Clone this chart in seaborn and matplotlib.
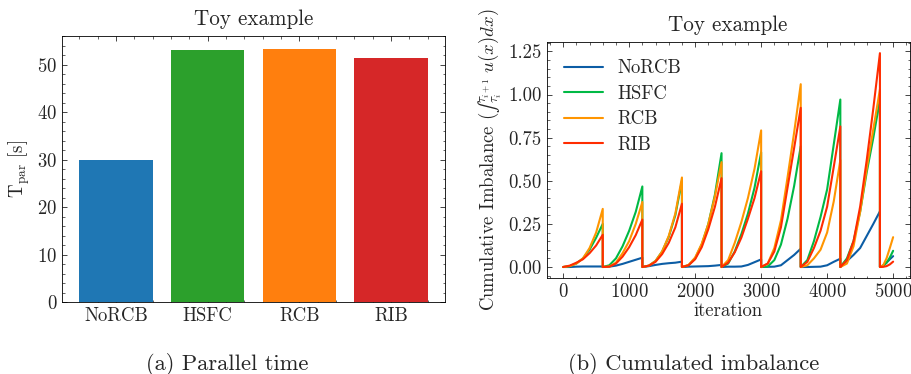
import numpy as np
import pandas as pd
import matplotlib
matplotlib.use("Agg")
import matplotlib.pyplot as plt
import seaborn as sns
from matplotlib.ticker import AutoMinorLocator, MultipleLocator, FormatStrFormatter

# ---------------- data ----------------
methods = ["NoRCB", "HSFC", "RCB", "RIB"]
t_par = [30.0, 53.0, 53.3, 51.3]
bar_colors = ["#1f77b4", "#2ca02c", "#ff7f0e", "#d62728"]

iteration = [0, 100, 200, 300, 400, 500, 600,
             600, 700, 800, 900, 1000, 1100, 1200,
             1200, 1300, 1400, 1500, 1600, 1700, 1800,
             1800, 1900, 2000, 2100, 2200, 2300, 2400,
             2400, 2500, 2600, 2700, 2800, 2900, 3000,
             3000, 3100, 3200, 3300, 3400, 3500, 3600,
             3600, 3700, 3800, 3900, 4000, 4100, 4200,
             4200, 4300, 4400, 4500, 4600, 4700, 4800,
             4800, 4850, 4900, 4950, 5000]

norcb = [0, 0.0, 0.002, 0.003, 0.003, 0.003, 0.003,
         0, 0.002, 0.008, 0.018, 0.030, 0.042, 0.054,
         0, 0.005, 0.012, 0.018, 0.022, 0.025, 0.031,
         0, 0.002, 0.003, 0.004, 0.005, 0.008, 0.012,
         0, 0.002, 0.002, 0.003, 0.012, 0.028, 0.044,
         0, 0.001, 0.002, 0.010, 0.040, 0.070, 0.106,
         0, 0.0, 0.001, 0.002, 0.010, 0.030, 0.048,
         0, 0.035, 0.070, 0.110, 0.180, 0.250, 0.323,
         0, 0.010, 0.025, 0.045, 0.063]

hsfc = [0, 0.005, 0.020, 0.050, 0.100, 0.170, 0.250,
        0, 0.010, 0.050, 0.120, 0.210, 0.320, 0.467,
        0, 0.008, 0.035, 0.090, 0.175, 0.300, 0.500,
        0, 0.010, 0.050, 0.130, 0.250, 0.420, 0.660,
        0, 0.020, 0.090, 0.190, 0.310, 0.460, 0.665,
        0, 0.003, 0.040, 0.130, 0.280, 0.470, 0.700,
        0, 0.040, 0.150, 0.290, 0.450, 0.710, 0.971,
        0, 0.050, 0.150, 0.320, 0.550, 0.750, 0.970,
        0, 0.005, 0.025, 0.055, 0.094]

rcb = [0, 0.005, 0.020, 0.050, 0.110, 0.200, 0.337,
       0, 0.003, 0.025, 0.080, 0.150, 0.250, 0.377,
       0, 0.008, 0.035, 0.090, 0.180, 0.310, 0.519,
       0, 0.012, 0.055, 0.135, 0.250, 0.410, 0.608,
       0, 0.040, 0.140, 0.260, 0.400, 0.570, 0.792,
       0, 0.020, 0.110, 0.270, 0.520, 0.780, 1.060,
       0, 0.010, 0.050, 0.100, 0.200, 0.380, 0.620,
       0, 0.020, 0.120, 0.320, 0.570, 0.800, 1.030,
       0, 0.010, 0.050, 0.110, 0.173]

rib = [0, 0.008, 0.025, 0.045, 0.080, 0.125, 0.187,
       0, 0.002, 0.020, 0.060, 0.115, 0.185, 0.275,
       0, 0.008, 0.030, 0.075, 0.140, 0.230, 0.367,
       0, 0.010, 0.045, 0.115, 0.220, 0.350, 0.515,
       0, 0.025, 0.085, 0.170, 0.280, 0.400, 0.555,
       0, 0.020, 0.090, 0.230, 0.460, 0.690, 0.923,
       0, 0.030, 0.110, 0.210, 0.350, 0.580, 0.815,
       0, 0.040, 0.150, 0.350, 0.620, 0.920, 1.240,
       0, 0.001, 0.005, 0.015, 0.031]

line_colors = ["#0C5DA5", "#00B945", "#FF9500", "#FF2C00"]

# ---------------- style ----------------
sns.set_style("ticks")
plt.rcParams.update({
    "font.family": "serif",
    "font.serif": ["cmr10", "DejaVu Serif"],
    "mathtext.fontset": "cm",
    "axes.formatter.use_mathtext": True,
    "font.size": 13.5,
    "axes.titlesize": 15.2,
    "axes.labelsize": 13.5,
    "legend.fontsize": 13.5,
    "axes.linewidth": 0.6,
    "xtick.direction": "in",
    "ytick.direction": "in",
    "xtick.top": True,
    "ytick.right": True,
    "xtick.major.size": 3.5,
    "ytick.major.size": 3.5,
    "xtick.minor.size": 1.8,
    "ytick.minor.size": 1.8,
    "xtick.major.width": 0.6,
    "ytick.major.width": 0.6,
    "xtick.minor.width": 0.5,
    "ytick.minor.width": 0.5,
    "xtick.minor.visible": True,
    "ytick.minor.visible": True,
    "axes.edgecolor": "black",
    "axes.grid": False,
})

fig = plt.figure(figsize=(9.12, 3.74), dpi=100)
ax1 = fig.add_axes([0.068, 0.1925, 0.42, 0.711])
ax2 = fig.add_axes([0.5994, 0.2575, 0.398, 0.629])

# ---- left: bar chart ----
df_bar = pd.DataFrame({"method": methods, "tpar": t_par})
sns.barplot(data=df_bar, x="method", y="tpar", hue="method",
            palette=bar_colors, saturation=1, width=0.8, legend=False,
            linewidth=0, ax=ax1)
ax1.set_xlim(-0.59, 3.59)
ax1.set_ylim(0, 56)
ax1.yaxis.set_major_locator(MultipleLocator(10))
ax1.yaxis.set_minor_locator(AutoMinorLocator(5))
ax1.xaxis.set_minor_locator(AutoMinorLocator(5))
ax1.set_xlabel("")
ax1.set_ylabel(r"T$_{\rm par}$ [s]", labelpad=4)
ax1.set_title("Toy example", pad=8)
ax1.tick_params(which="both", direction="in", top=True, right=True)

# ---- right: lines ----
df_lines = pd.DataFrame({
    "iteration": iteration * 4,
    "value": norcb + hsfc + rcb + rib,
    "method": [m for m in methods for _ in iteration],
})
sns.lineplot(data=df_lines, x="iteration", y="value", hue="method",
             palette=line_colors, estimator=None, sort=False, units="method",
             linewidth=1.5, ax=ax2)
ax2.set_xlim(-250, 5250)
ax2.set_ylim(-0.062, 1.302)
ax2.xaxis.set_major_locator(MultipleLocator(1000))
ax2.xaxis.set_minor_locator(AutoMinorLocator(5))
ax2.yaxis.set_major_locator(MultipleLocator(0.25))
ax2.yaxis.set_minor_locator(AutoMinorLocator(5))
ax2.yaxis.set_major_formatter(FormatStrFormatter("%.2f"))
ax2.set_xlabel("iteration", labelpad=1)
ax2.set_ylabel("Cumulative Imbalance $(\u222b_{\\tau_i}^{\\tau_{i+1}}\\;u(x)dx)$", labelpad=3)
ax2.set_title("Toy example", pad=8)
ax2.tick_params(which="both", direction="in", top=True, right=True)
leg = ax2.legend(loc="upper left", frameon=False, handlelength=2.1, labelspacing=0.4)
leg.set_title(None)

fig.text(227 / 912, 1 - 364 / 374, "(a) Parallel time", ha="center", va="center", fontsize=16.2)
fig.text(694 / 912, 1 - 364 / 374, "(b) Cumulated imbalance", ha="center", va="center", fontsize=16.2)

fig.savefig("out.png", dpi=100)
